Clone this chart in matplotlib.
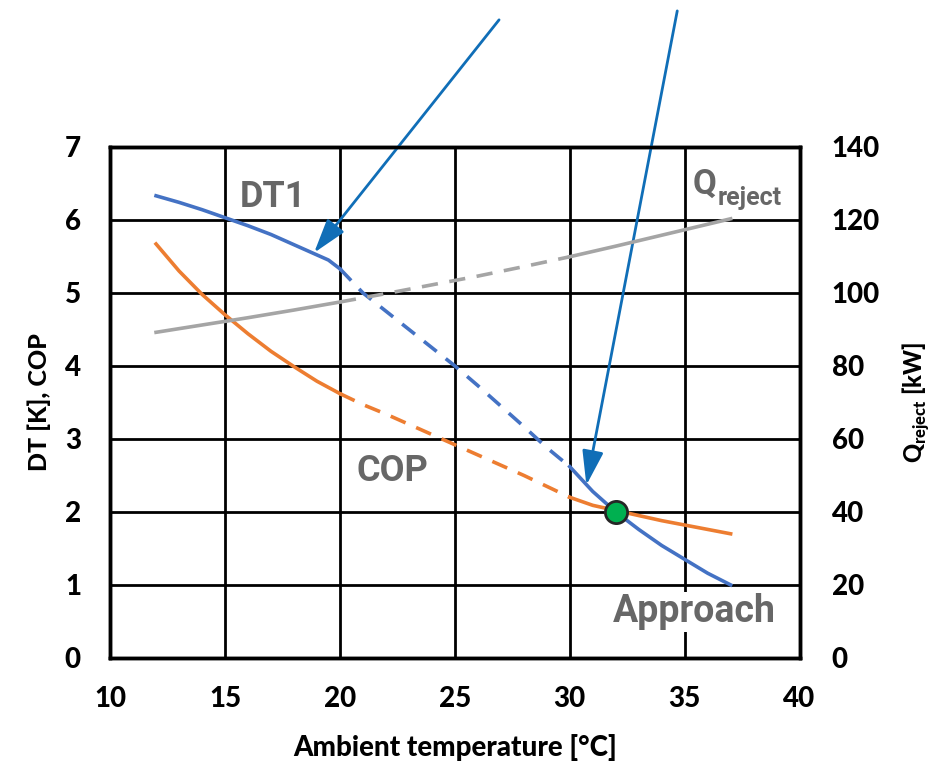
import matplotlib
matplotlib.use("Agg")
import matplotlib.pyplot as plt

# DT1 (blue) : solid low range, dashed middle, solid "approach" range
dt_x1 = [12, 13, 14, 15, 16, 17, 18, 19, 19.5, 20]
dt_y1 = [6.33, 6.24, 6.14, 6.03, 5.92, 5.8, 5.66, 5.52, 5.45, 5.33]
dt_x2 = [20, 21, 22, 23, 24, 25, 26, 27, 28, 29, 30]
dt_y2 = [5.33, 5.0, 4.75, 4.5, 4.25, 4.0, 3.73, 3.45, 3.17, 2.88, 2.62]
dt_x3 = [30, 31, 32, 33, 34, 35, 36, 37]
dt_y3 = [2.62, 2.28, 2.0, 1.76, 1.54, 1.35, 1.16, 1.0]

# COP (orange)
cop_x1 = [12, 13, 14, 15, 16, 17, 18, 19, 20]
cop_y1 = [5.67, 5.3, 4.98, 4.7, 4.44, 4.2, 3.99, 3.79, 3.62]
cop_x2 = [20, 21, 22, 23, 24, 25, 26, 27, 28, 29, 30]
cop_y2 = [3.62, 3.47, 3.34, 3.2, 3.06, 2.92, 2.78, 2.64, 2.5, 2.35, 2.2]
cop_x3 = [30, 31, 32, 33, 34, 35, 36, 37]
cop_y3 = [2.2, 2.09, 2.02, 1.95, 1.88, 1.82, 1.76, 1.7]

# Q reject (grey, right axis, kW)
q_x1 = [12, 14, 16, 18, 20]
q_y1 = [89.2, 91.2, 93.2, 95.3, 97.5]
q_x2 = [20, 22, 24, 26, 28, 30]
q_y2 = [97.5, 99.8, 102.2, 104.6, 107.2, 109.9]
q_x3 = [30, 32, 34, 36, 37]
q_y3 = [109.9, 112.8, 115.8, 118.8, 120.3]

point = (32, 2.0)

blue = "#4472C4"
orange = "#ED7D31"
grey = "#A5A5A5"
lab = "#676767"
narrow = ["Roboto", "DejaVu Sans"]
tickfont = ["Lato", "DejaVu Sans"]
heavy = 900

plt.rcParams['mathtext.fontset'] = 'custom'
plt.rcParams['mathtext.rm'] = 'Lato:black'

fig = plt.figure(figsize=(9.33, 7.65), dpi=100)
ax = fig.add_axes([0.118, 0.14, 0.739, 0.668])
ax2 = ax.twinx()

lw = 2.6
dash = (0, (4.5, 3.2))
ax.plot(dt_x1, dt_y1, color=blue, lw=lw)
ax.plot(dt_x2, dt_y2, color=blue, lw=lw, linestyle=dash)
ax.plot(dt_x3, dt_y3, color=blue, lw=lw)
ax.plot(cop_x1, cop_y1, color=orange, lw=lw)
ax.plot(cop_x2, cop_y2, color=orange, lw=lw, linestyle=dash)
ax.plot(cop_x3, cop_y3, color=orange, lw=lw)
ax2.plot(q_x1, q_y1, color=grey, lw=lw)
ax2.plot(q_x2, q_y2, color=grey, lw=lw, linestyle=dash)
ax2.plot(q_x3, q_y3, color=grey, lw=lw)
ax.plot([point[0]], [point[1]], 'o', ms=16, color="#00B050",
        markeredgecolor="#262626", markeredgewidth=2, zorder=5)

ax.set_xlim(10, 40)
ax.set_ylim(0, 7)
ax2.set_ylim(0, 140)
ax.set_xticks(range(10, 41, 5))
ax.set_yticks(range(0, 8))
ax2.set_yticks(range(0, 141, 20))
ax.grid(True, color="black", lw=2)
ax.set_axisbelow(True)
for a in (ax, ax2):
    for s in a.spines.values():
        s.set_linewidth(2.5)
    a.tick_params(length=0, labelsize=20, pad=21)
for t in ax.get_xticklabels() + ax.get_yticklabels() + ax2.get_yticklabels():
    t.set_fontweight(heavy)
    t.set_family(tickfont)
ax.tick_params(axis='x', pad=20)
ax2.tick_params(pad=23)

ax.set_xlabel("Ambient temperature [°C]", fontsize=20, fontweight=heavy,
              family=tickfont, labelpad=16)
ax.set_ylabel("DT [K], COP", fontsize=18, fontweight=heavy,
              family=tickfont, labelpad=10)
ax2.set_ylabel(r"Q$_\mathrm{reject}$ [kW]", fontsize=17, fontweight=heavy,
               family=tickfont, labelpad=15)

ax.text(17.1, 6.32, "DT1", color=lab, fontsize=26, fontweight="bold",
        family=narrow, ha="center", va="center")
ax.text(22.3, 2.56, "COP", color=lab, fontsize=26, fontweight="bold",
        family=narrow, ha="center", va="center")
ax.text(35.4, 0.63, "Approach", color=lab, fontsize=27, fontweight="bold",
        family=narrow, ha="center", va="center",
        bbox=dict(facecolor="white", edgecolor="none", pad=1))
ax.text(35.35, 6.35, "Q", color=lab, fontsize=25, fontweight="bold",
        family=narrow, ha="left", va="baseline")
ax.text(36.45, 6.2, "reject", color=lab, fontsize=18, fontweight="bold",
        family=narrow, ha="left", va="baseline")

arrow = dict(arrowstyle="-|>,head_length=2.1,head_width=0.65", color="#106EB7", lw=2)
ax.annotate("", xy=(18.8, 5.52), xytext=(27.0, 8.77), arrowprops=arrow,
            annotation_clip=False)
ax.annotate("", xy=(30.7, 2.33), xytext=(34.7, 8.9), arrowprops=arrow,
            annotation_clip=False)

fig.savefig("out.png", dpi=100)
